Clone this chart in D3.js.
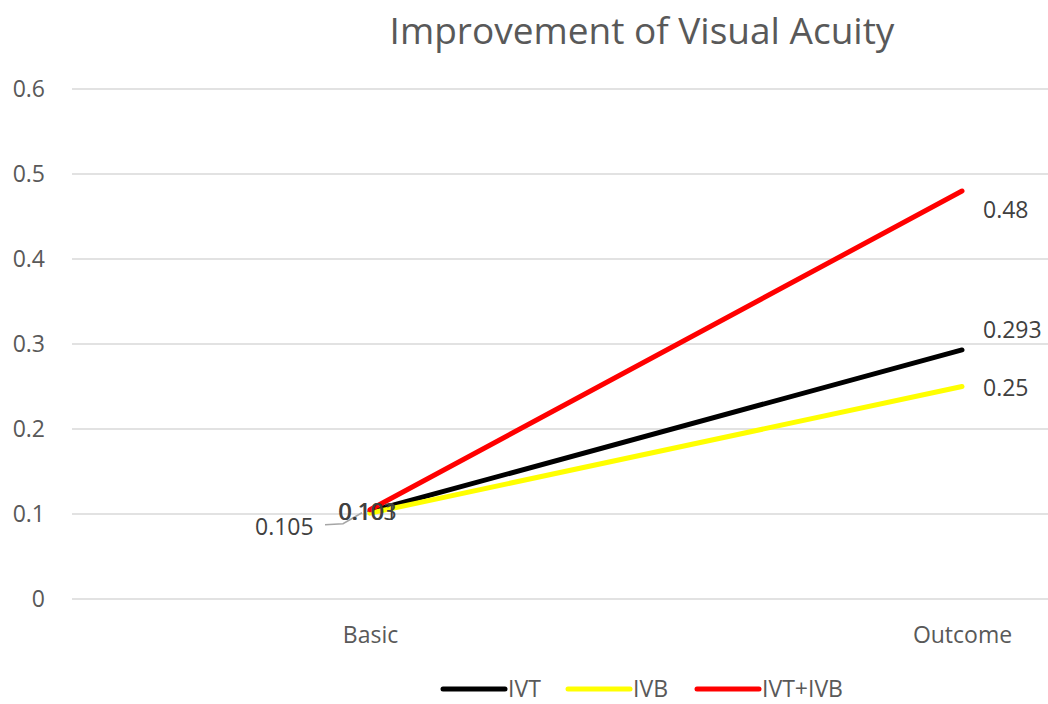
<!DOCTYPE html>
<html>
<head>
<meta charset="utf-8">
<script src="https://cdn.jsdelivr.net/npm/d3@7"></script>
<style>
  body { margin: 0; background: #fff; }
  text { font-family: "Open Sans", "Noto Sans", sans-serif; }
</style>
</head>
<body>
<div id="chart"></div>
<script>
// Data
const categories = ["Basic", "Outcome"];
const seriesNames = ["IVT", "IVB", "IVT+IVB"];
const ivtValues = [0.103, 0.293];
const ivbValues = [0.101, 0.25];
const comboValues = [0.105, 0.48];
const yTicks = [0, 0.1, 0.2, 0.3, 0.4, 0.5, 0.6];

const colors = ["#000000", "#ffff00", "#ff0000"];
// label offsets (px) from each point, per series, per category
const labelOffsets = [
  [[-32, 0], [21, -20]],
  [[-31, -1], [21, 1]],
  [[-115, 17], [21, 19]]
];

const width = 1048, height = 704;
const margin = { top: 89, left: 72, bottom: 105 };
const fontSize = 23;

const svg = d3.select("#chart").append("svg")
  .attr("width", width)
  .attr("height", height);

const x = d3.scalePoint().domain(categories).range([74, 1258]).padding(0.5);
const y = d3.scaleLinear().domain([0, 0.6]).range([599, 89]);

// Title
svg.append("text")
  .attr("x", 642)
  .attr("y", 44)
  .attr("text-anchor", "middle")
  .attr("font-size", 37)
  .attr("fill", "#595959")
  .text("Improvement of Visual Acuity");

// Grid lines
svg.append("g")
  .selectAll("line")
  .data(yTicks)
  .join("line")
  .attr("x1", margin.left)
  .attr("x2", width)
  .attr("y1", d => y(d))
  .attr("y2", d => y(d))
  .attr("stroke", "#d9d9d9")
  .attr("stroke-width", 1.5);

// Y axis
const yAxis = svg.append("g")
  .attr("transform", `translate(${margin.left},0)`)
  .call(d3.axisLeft(y).tickValues(yTicks).tickSize(0).tickPadding(27).tickFormat(d => d === 0 ? "0" : d3.format(".1f")(d)));
yAxis.select(".domain").remove();
yAxis.selectAll("text").attr("font-size", fontSize).attr("fill", "#595959").attr("font-family", "Open Sans");

// X axis labels
const xAxis = svg.append("g")
  .attr("transform", "translate(0,599)")
  .call(d3.axisBottom(x).tickSize(0).tickPadding(28));
xAxis.select(".domain").remove();
xAxis.selectAll("text").attr("font-size", fontSize).attr("fill", "#595959").attr("font-family", "Open Sans");

// Lines
const series = [ivtValues, ivbValues, comboValues].map((vals, i) => ({
  name: seriesNames[i],
  color: colors[i],
  values: vals.map((v, j) => ({ cat: categories[j], value: v })),
  idx: i
}));

const line = d3.line().x(d => x(d.cat)).y(d => y(d.value));

svg.append("g")
  .selectAll("path")
  .data(series)
  .join("path")
  .attr("d", d => line(d.values))
  .attr("fill", "none")
  .attr("stroke", d => d.color)
  .attr("stroke-width", 5)
  .attr("stroke-linecap", "round");

// Leader line for the 0.105 label
const p105 = comboValues[0];
svg.append("polyline")
  .attr("points", [
    [x("Basic") - 45, y(p105) + 15],
    [x("Basic") - 27, y(p105) + 14],
    [x("Basic") - 8, y(p105) + 3]
  ].map(p => p.join(",")).join(" "))
  .attr("fill", "none")
  .attr("stroke", "#a6a6a6")
  .attr("stroke-width", 1.5);

// Data labels
series.forEach(s => {
  svg.append("g")
    .selectAll("text")
    .data(s.values)
    .join("text")
    .attr("x", (d, j) => x(d.cat) + labelOffsets[s.idx][j][0])
    .attr("y", (d, j) => y(d.value) + labelOffsets[s.idx][j][1])
    .attr("dy", "0.35em")
    .attr("font-size", fontSize)
    .attr("fill", "#404040")
    .text(d => d.value);
});

// Legend
const legendX = [443, 568, 697];
const legend = svg.append("g").attr("transform", "translate(0,689)");
seriesNames.forEach((name, i) => {
  legend.append("line")
    .attr("x1", legendX[i])
    .attr("x2", legendX[i] + 62)
    .attr("stroke", colors[i])
    .attr("stroke-width", 5)
    .attr("stroke-linecap", "round");
  legend.append("text")
    .attr("x", legendX[i] + 65)
    .attr("dy", "0.35em")
    .attr("font-size", fontSize)
    .attr("fill", "#595959")
    .text(name);
});
</script>
</body>
</html>
